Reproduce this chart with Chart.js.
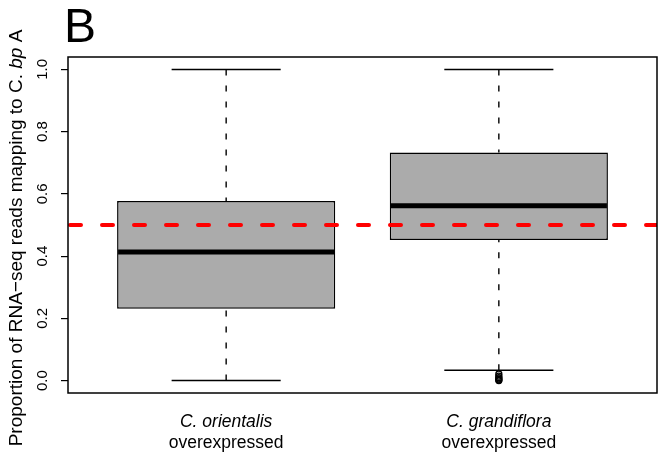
<!DOCTYPE html>
<html>
<head>
<meta charset="utf-8">
<script src="https://cdn.jsdelivr.net/npm/chart.js@4"></script>
<style>
  html, body { margin: 0; padding: 0; background: #fff; }
</style>
</head>
<body>
<canvas id="grafico" width="658" height="454"></canvas>
<script>
const grupos = ['C. orientalis', 'C. grandiflora'];
const subtitulos = ['overexpressed', 'overexpressed'];
const posicoes = [1, 2];
const minimos = [0.0, 0.033];
const q1s = [0.231, 0.452];
const medianas = [0.413, 0.562];
const q3s = [0.577, 0.733];
const maximos = [1.0, 1.0];
const outliersGrandiflora = [0.0, 0.002, 0.005, 0.009, 0.014, 0.021];
const referencia = 0.5;
const yTicks = [0, 0.2, 0.4, 0.6, 0.8, 1.0];

const FONTE = 'Liberation Sans, Arial, sans-serif';

const desenhoBoxplot = {
  id: 'desenhoBoxplot',
  beforeDatasetsDraw(chart) {
    const ctx = chart.ctx;
    const x = chart.scales.x, y = chart.scales.y;
    ctx.save();
    ctx.strokeStyle = '#000';
    ctx.lineWidth = 1.4;
    ctx.setLineDash([6, 10]);
    posicoes.forEach((p, i) => {
      const px = x.getPixelForValue(p);
      ctx.beginPath();
      ctx.moveTo(px, y.getPixelForValue(maximos[i]));
      ctx.lineTo(px, y.getPixelForValue(q3s[i]));
      ctx.moveTo(px, y.getPixelForValue(minimos[i]));
      ctx.lineTo(px, y.getPixelForValue(q1s[i]));
      ctx.stroke();
    });
    ctx.restore();
  },
  afterDatasetsDraw(chart) {
    const ctx = chart.ctx;
    const x = chart.scales.x, y = chart.scales.y;
    const a = chart.chartArea;
    ctx.save();
    ctx.strokeStyle = '#000';
    // bigodes
    ctx.lineWidth = 1.6;
    posicoes.forEach((p, i) => {
      const x0 = x.getPixelForValue(p - 0.2), x1 = x.getPixelForValue(p + 0.2);
      [minimos[i], maximos[i]].forEach(v => {
        const py = y.getPixelForValue(v);
        ctx.beginPath();
        ctx.moveTo(x0, py);
        ctx.lineTo(x1, py);
        ctx.stroke();
      });
    });
    // medianas
    ctx.lineWidth = 5;
    ctx.lineCap = 'butt';
    posicoes.forEach((p, i) => {
      const py = y.getPixelForValue(medianas[i]);
      ctx.beginPath();
      ctx.moveTo(x.getPixelForValue(p - 0.4) + 1, py);
      ctx.lineTo(x.getPixelForValue(p + 0.4) - 1, py);
      ctx.stroke();
    });
    // moldura
    ctx.lineWidth = 1.5;
    ctx.strokeRect(a.left, a.top, a.right - a.left, a.bottom - a.top);
    ctx.restore();
  },
  afterDraw(chart) {
    const ctx = chart.ctx;
    const x = chart.scales.x;
    ctx.save();
    ctx.fillStyle = '#000';
    // letra do painel
    ctx.font = '48px ' + FONTE;
    ctx.textAlign = 'left';
    ctx.textBaseline = 'alphabetic';
    ctx.fillText('B', 64, 42);
    // rotulos do eixo x
    ctx.textAlign = 'center';
    ctx.textBaseline = 'middle';
    posicoes.forEach((p, i) => {
      const px = x.getPixelForValue(p);
      ctx.font = 'italic 17.5px ' + FONTE;
      ctx.fillText(grupos[i], px, 422);
      ctx.font = '17.5px ' + FONTE;
      ctx.fillText(subtitulos[i], px, 443);
    });
    // titulo do eixo y, com "bp" em italico
    const partes = [
      { t: 'Proportion of RNA\u2212seq reads mapping to C. ', f: '19px ' + FONTE },
      { t: 'bp', f: 'italic 19px ' + FONTE },
      { t: ' A', f: '19px ' + FONTE }
    ];
    let total = 0;
    partes.forEach(s => { ctx.font = s.f; s.w = ctx.measureText(s.t).width; total += s.w; });
    ctx.translate(17, 238);
    ctx.rotate(-Math.PI / 2);
    ctx.textAlign = 'left';
    let cx = -total / 2;
    partes.forEach(s => { ctx.font = s.f; ctx.fillText(s.t, cx, 0); cx += s.w; });
    ctx.restore();
  }
};

new Chart(document.getElementById('grafico'), {
  data: {
    datasets: [
      {
        type: 'line',
        order: 0,
        data: [{ x: 0.42, y: referencia }, { x: 2.58, y: referencia }],
        borderColor: '#FF0000',
        borderWidth: 4,
        borderDash: [11, 21],
        borderDashOffset: -2,
        borderCapStyle: 'round',
        pointRadius: 0,
        fill: false
      },
      {
        type: 'scatter',
        order: 1,
        data: outliersGrandiflora.map(v => ({ x: posicoes[1], y: v })),
        pointRadius: 3,
        pointBorderWidth: 1.3,
        borderColor: '#000',
        backgroundColor: 'rgba(0,0,0,0)'
      },
      {
        type: 'bar',
        order: 2,
        data: posicoes.map((p, i) => ({ x: p, y: [q1s[i], q3s[i]] })),
        backgroundColor: '#ABABAB',
        borderColor: '#000',
        borderWidth: 1.5,
        borderSkipped: false,
        categoryPercentage: 1,
        barPercentage: 0.8
      }
    ]
  },
  options: {
    responsive: false,
    animation: false,
    devicePixelRatio: 1,
    layout: { autoPadding: false, padding: { top: 57, right: 1, bottom: 61, left: 0 } },
    plugins: { legend: { display: false }, tooltip: { enabled: false } },
    scales: {
      x: {
        type: 'linear',
        min: 0.42,
        max: 2.58,
        offset: false,
        display: false,
        afterBuildTicks(s) { s.ticks = posicoes.map(v => ({ value: v })); }
      },
      y: {
        type: 'linear',
        min: -0.04,
        max: 1.04,
        afterFit(s) { s.width = 68; },
        afterBuildTicks(s) { s.ticks = yTicks.map(v => ({ value: v })); },
        ticks: {
          callback: v => v.toFixed(1),
          minRotation: 90,
          maxRotation: 90,
          crossAlign: 'center',
          padding: 8,
          color: '#000',
          font: { family: FONTE, size: 15 }
        },
        grid: { drawOnChartArea: false, drawTicks: true, tickLength: 7, color: '#000', lineWidth: 1.2 },
        border: { display: false }
      }
    }
  },
  plugins: [desenhoBoxplot]
});
</script>
</body>
</html>
